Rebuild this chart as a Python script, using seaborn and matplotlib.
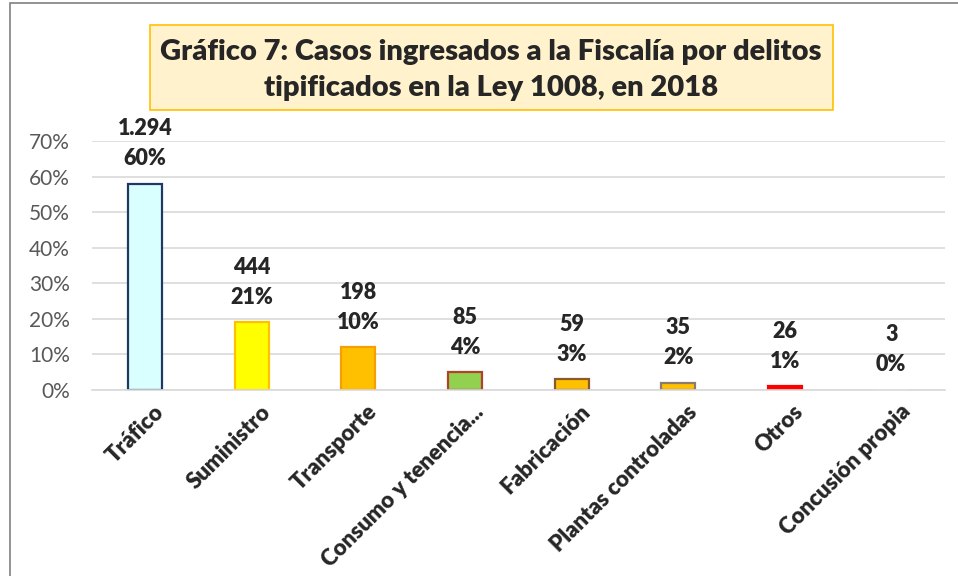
import matplotlib

matplotlib.use("Agg")
import matplotlib.pyplot as plt
import matplotlib.transforms as mtransforms
import seaborn as sns
from matplotlib.patches import Rectangle
from matplotlib.ticker import PercentFormatter

# ===================== datos =====================
categorias = ["Tráfico", "Suministro", "Transporte", "Consumo y tenencia...",
              "Fabricación", "Plantas controladas", "Otros", "Concusión propia"]
altura_barra = [0.58, 0.19, 0.12, 0.05, 0.03, 0.02, 0.01, 0.0]
casos = ["1.294", "444", "198", "85", "59", "35", "26", "3"]
porcentajes = ["60%", "21%", "10%", "4%", "3%", "2%", "1%", "0%"]
titulo = "Gráfico 7: Casos ingresados a la Fiscalía por delitos\ntipificados en la Ley 1008, en 2018"

relleno = ["#DAFFFF", "#FFFF00", "#FFC000", "#92D050", "#FFC000", "#FFC000", "#FF0000", "#FFFFFF"]
borde = ["#1F3864", "#FFC000", "#F5A000", "#B0422A", "#8B5A2B", "#8C7B6B", "#FF0000", "#FFFFFF"]

sns.set_style("white")
plt.rcParams['font.family'] = ['Lato', 'DejaVu Sans']

fig = plt.figure(figsize=(9.58, 5.76), dpi=100)
ax = fig.add_axes([0.096, 0.323, 0.890, 0.432])

sns.barplot(x=categorias, y=altura_barra, hue=categorias, palette=relleno,
            legend=False, width=0.32, saturation=1, ax=ax)
for p, ec in zip(ax.patches, borde):
    p.set_edgecolor(ec)
    p.set_linewidth(1.6)

ax.set_ylim(0, 0.7)
ax.set_xlim(-0.5, len(categorias) - 0.5)
ax.yaxis.set_major_formatter(PercentFormatter(1.0, decimals=0))
ax.set_yticks([i / 10 for i in range(8)])
ax.yaxis.grid(True, color="#D9D9D9", linewidth=1.2)
ax.set_axisbelow(True)
for s in ["left", "right", "top"]:
    ax.spines[s].set_visible(False)
ax.spines["bottom"].set_color("#D9D9D9")
ax.spines["bottom"].set_linewidth(1.2)
ax.tick_params(axis="y", labelsize=15, labelcolor="#595959", length=0, pad=16)
ax.tick_params(axis="x", length=0, pad=8)
ax.set_xticks(range(len(categorias)))
ax.set_xticklabels(categorias, rotation=45, ha="right", rotation_mode="anchor",
                   fontsize=16, fontweight="heavy")
desplaza = mtransforms.ScaledTranslation(8 / 100, 0, fig.dpi_scale_trans)
for lbl in ax.get_xticklabels():
    lbl.set_transform(lbl.get_transform() + desplaza)

# etiquetas de datos
for i, (h, c, pct) in enumerate(zip(altura_barra, casos, porcentajes)):
    ax.annotate(pct, (i, h), xytext=(0, 25), textcoords="offset pixels",
                ha="center", va="center", fontsize=15.5, fontweight="heavy")
    ax.annotate(c, (i, h), xytext=(0, 55), textcoords="offset pixels",
                ha="center", va="center", fontsize=15.5, fontweight="heavy",
                annotation_clip=False)

# título en recuadro
fig.patches.append(Rectangle((150 / 958, 1 - 110 / 576), 683 / 958, 85 / 576,
                             transform=fig.transFigure, facecolor="#FFF2CC",
                             edgecolor="#FFC000", linewidth=1.2))
fig.text(491 / 958, 1 - 70 / 576, titulo, ha="center", va="center",
         fontsize=21, fontweight="heavy", linespacing=1.45)

# marco del gráfico
fig.patches.append(Rectangle((10 / 958, -0.1), 1.2, 1 - 3 / 576 + 0.1,
                             transform=fig.transFigure, facecolor="none",
                             edgecolor="#808080", linewidth=1.2))

fig.savefig("out.png", dpi=100)
